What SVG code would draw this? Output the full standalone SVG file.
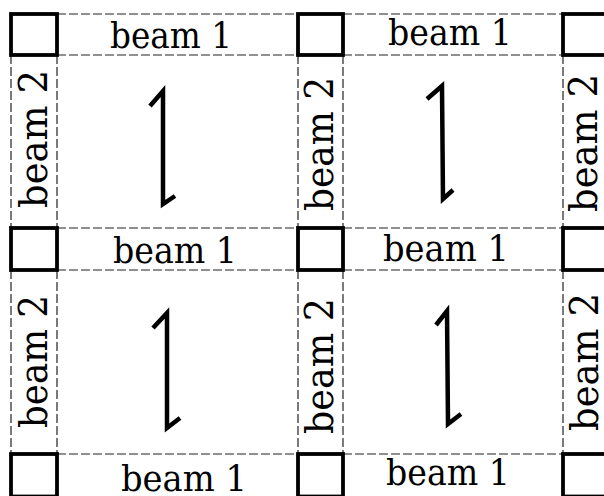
<svg xmlns="http://www.w3.org/2000/svg" width="604" height="496" viewBox="0 0 604 496">
<style>
.bg{fill:#ffffff}
.dash{stroke:#222;stroke-width:1.2;stroke-dasharray:9 3;fill:none}
.joint{fill:#ffffff;stroke:#000;stroke-width:3.8}
.lbl{font-family:"DejaVu Serif","Liberation Serif",serif;font-size:35px;fill:#000}
.vlbl{font-family:"DejaVu Serif","Liberation Serif",serif;font-size:39px;fill:#000}
.hook{fill:none;stroke:#000;stroke-width:4.5;stroke-linejoin:miter;stroke-linecap:butt}
</style>
<rect class="bg" x="0" y="0" width="604" height="496"/>
<g id="grid-lines">
<path class="dash" d="M57,14 H298 M57,55 H298 M343,14 H563 M343,55 H563"/>
<path class="dash" d="M57,228 H298 M57,270 H298 M343,228 H563 M343,270 H563"/>
<path class="dash" d="M57,454 H298 M343,454 H563"/>
<path class="dash" d="M11,55 V228 M57,55 V228 M298,55 V228 M343,55 V228 M563,55 V228"/>
<path class="dash" d="M11,270 V454 M57,270 V454 M298,270 V454 M343,270 V454 M563,270 V454"/>
</g>
<g id="joint-r1c1"><rect class="joint" x="11" y="14" width="46" height="41"/></g>
<g id="joint-r1c2"><rect class="joint" x="298" y="14" width="45" height="41"/></g>
<g id="joint-r1c3"><rect class="joint" x="563" y="14" width="46" height="41"/></g>
<g id="joint-r2c1"><rect class="joint" x="11" y="228" width="46" height="42"/></g>
<g id="joint-r2c2"><rect class="joint" x="298" y="228" width="45" height="42"/></g>
<g id="joint-r2c3"><rect class="joint" x="563" y="228" width="46" height="42"/></g>
<g id="joint-r3c1"><rect class="joint" x="11" y="454" width="46" height="42.5"/></g>
<g id="joint-r3c2"><rect class="joint" x="298" y="454" width="45" height="42.5"/></g>
<g id="joint-r3c3"><rect class="joint" x="563" y="454" width="46" height="42.5"/></g>
<g id="beam1-r1c1"><text class="lbl" x="110" y="48" textLength="122" lengthAdjust="spacingAndGlyphs">beam 1</text></g>
<g id="beam1-r1c2"><text class="lbl" x="388" y="45" textLength="124" lengthAdjust="spacingAndGlyphs">beam 1</text></g>
<g id="beam1-r2c1"><text class="lbl" x="113" y="263" textLength="124" lengthAdjust="spacingAndGlyphs">beam 1</text></g>
<g id="beam1-r2c2"><text class="lbl" x="383" y="261" textLength="126" lengthAdjust="spacingAndGlyphs">beam 1</text></g>
<g id="beam1-r3c1"><text class="lbl" x="121" y="491" textLength="126" lengthAdjust="spacingAndGlyphs">beam 1</text></g>
<g id="beam1-r3c2"><text class="lbl" x="386" y="485" textLength="124" lengthAdjust="spacingAndGlyphs">beam 1</text></g>
<g id="beam2-r1c1"><text class="vlbl" transform="translate(47,208) rotate(-90)" textLength="138" lengthAdjust="spacingAndGlyphs">beam 2</text></g>
<g id="beam2-r1c2"><text class="vlbl" transform="translate(333,211) rotate(-90)" textLength="134" lengthAdjust="spacingAndGlyphs">beam 2</text></g>
<g id="beam2-r1c3"><text class="vlbl" transform="translate(597,212) rotate(-90)" textLength="138" lengthAdjust="spacingAndGlyphs">beam 2</text></g>
<g id="beam2-r2c1"><text class="vlbl" transform="translate(47,428) rotate(-90)" textLength="133" lengthAdjust="spacingAndGlyphs">beam 2</text></g>
<g id="beam2-r2c2"><text class="vlbl" transform="translate(333,434) rotate(-90)" textLength="136" lengthAdjust="spacingAndGlyphs">beam 2</text></g>
<g id="beam2-r2c3"><text class="vlbl" transform="translate(598,431) rotate(-90)" textLength="138" lengthAdjust="spacingAndGlyphs">beam 2</text></g>
<g id="cell-r1c1"><path class="hook" d="M150,106 L163,91 L163,204 L175,196"/></g>
<g id="cell-r1c2"><path class="hook" d="M427,99 L442,86 L443,199 L453,190"/></g>
<g id="cell-r2c1"><path class="hook" d="M153,328 L167,313 L167,428 L180,418"/></g>
<g id="cell-r2c2"><path class="hook" d="M436,325 L447,311 L448,424 L461,414"/></g>
</svg>
